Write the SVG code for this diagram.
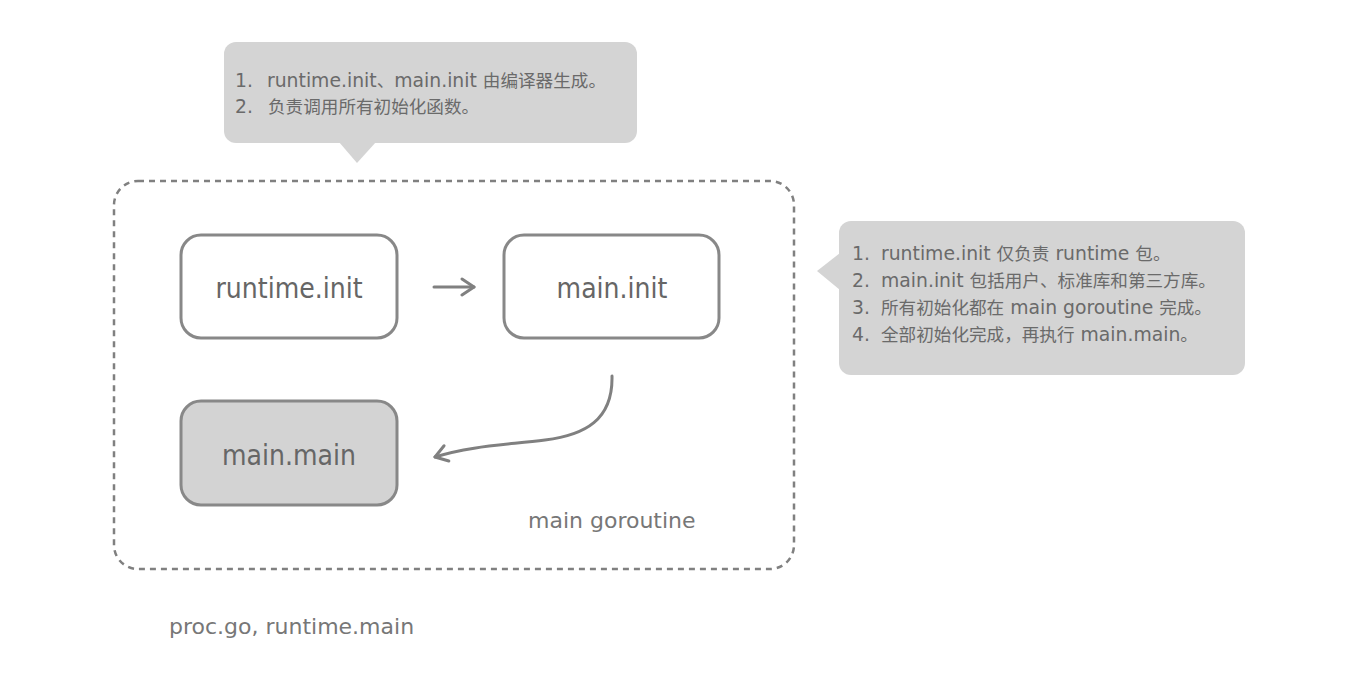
<svg xmlns="http://www.w3.org/2000/svg" width="1362" height="692" viewBox="0 0 1362 692">
<defs>
<style>
.callout{fill:#d4d4d4;}
.ctext{font-family:"DejaVu Sans","Noto Sans CJK SC",sans-serif;font-size:18.8px;fill:#6a6a6a;}
.cj{font-family:"Noto Sans CJK SC",sans-serif;font-size:17.6px;}
.node{fill:#fff;stroke:#888;stroke-width:3;}
.ntext{font-family:"DejaVu Sans Condensed","DejaVu Sans",sans-serif;font-size:28px;fill:#666;text-anchor:middle;}
.label{font-family:"DejaVu Sans",sans-serif;font-size:22px;fill:#777;}
.conn{fill:none;stroke:#808080;stroke-width:3;stroke-linecap:round;stroke-linejoin:round;}
</style>
<marker id="chev" viewBox="0 0 20 20" refX="18" refY="10" markerWidth="20" markerHeight="20" markerUnits="userSpaceOnUse" orient="auto">
<path d="M6,2 L18,10 L6,18" fill="none" stroke="#808080" stroke-width="3" stroke-linecap="round" stroke-linejoin="round"/>
</marker>
</defs>
<rect width="1362" height="692" fill="#fff"/>
<g id="container">
<rect x="114" y="181" width="680" height="388" rx="24" fill="none" stroke="#808080" stroke-width="2.5" stroke-dasharray="6,5"/>
<text class="label" x="528" y="528">main goroutine</text>
</g>
<g id="note-top">
<rect class="callout" x="224" y="42" width="413" height="101" rx="12"/>
<polygon class="callout" points="339,142 376,142 357,163"/>
<text class="ctext" x="235" y="87">1.<tspan x="267">runtime.init</tspan><tspan class="cj">、</tspan>main.init <tspan class="cj">由编译器生成。</tspan></text>
<text class="ctext" x="235" y="113">2.<tspan x="268" class="cj">负责调用所有初始化函数。</tspan></text>
</g>
<g id="note-right">
<rect class="callout" x="839" y="221" width="406" height="154" rx="12"/>
<polygon class="callout" points="840,253 817,271 840,290"/>
<text class="ctext" x="852" y="260">1.<tspan x="881">runtime.init </tspan><tspan class="cj">仅负责</tspan> runtime <tspan class="cj">包。</tspan></text>
<text class="ctext" x="852" y="287">2.<tspan x="881">main.init </tspan><tspan class="cj">包括用户、标准库和第三方库。</tspan></text>
<text class="ctext" x="852" y="314">3.<tspan x="881" class="cj">所有初始化都在</tspan> main goroutine <tspan class="cj">完成。</tspan></text>
<text class="ctext" x="852" y="341">4.<tspan x="881" class="cj">全部初始化完成，再执行</tspan> main.main<tspan class="cj">。</tspan></text>
</g>
<g id="runtime-init">
<rect class="node" x="181" y="235" width="216" height="103" rx="20"/>
<text class="ntext" x="289" y="298">runtime.init</text>
</g>
<g id="main-init">
<rect class="node" x="504" y="235" width="215" height="103" rx="20"/>
<text class="ntext" x="612" y="298">main.init</text>
</g>
<g id="main-main">
<rect class="node" x="181" y="401" width="216" height="104" rx="20" style="fill:#d3d3d3"/>
<text class="ntext" x="289" y="465">main.main</text>
</g>
<g id="connectors">
<path class="conn" d="M434,287 L474,287" marker-end="url(#chev)"/>
<path class="conn" d="M612,376 C613,420 585,435 545,440 C505,445 470,446 435,457" marker-end="url(#chev)"/>
</g>
<text class="label" x="169" y="634">proc.go, runtime.main</text>
</svg>
